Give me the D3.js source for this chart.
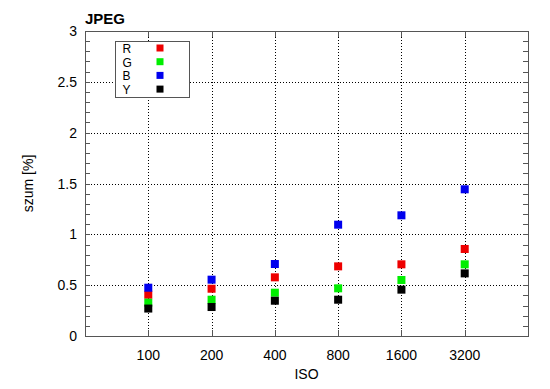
<!DOCTYPE html>
<html>
<head>
<meta charset="utf-8">
<script src="https://cdn.jsdelivr.net/npm/d3@7"></script>
<style>
  body { margin: 0; background: #fff; }
  text { font-family: "Liberation Sans", Arial, sans-serif; }
</style>
</head>
<body>
<div class="chart"></div>
<script>
(function() {

    var isoLabels = ['100', '200', '400', '800', '1600', '3200'];
    var rValues = [0.406, 0.465, 0.577, 0.685, 0.705, 0.856];
    var gValues = [0.328, 0.357, 0.426, 0.469, 0.551, 0.705];
    var bValues = [0.475, 0.554, 0.708, 1.095, 1.187, 1.443];
    var yValues = [0.270, 0.285, 0.347, 0.357, 0.456, 0.616];
    var yTicks = [0, 0.5, 1, 1.5, 2, 2.5, 3];

    var series = [
        { name: 'R', color: '#ee0000', values: rValues },
        { name: 'G', color: '#00ee00', values: gValues },
        { name: 'B', color: '#0000ee', values: bValues },
        { name: 'Y', color: '#000000', values: yValues }
    ];

    var size = { w: 550, h: 389 };
    var m = { left: 85, right: 22, top: 31, bottom: 53 };
    var pw = size.w - m.left - m.right;
    var ph = size.h - m.top - m.bottom;

    var svg = d3.select('.chart')
        .append('svg')
        .attr('width', size.w)
        .attr('height', size.h);

    var g = svg.append('g').attr('transform', 'translate(' + m.left + ',' + m.top + ')');

    var x = d3.scaleLinear().domain([0, isoLabels.length + 1]).range([0, pw]);
    var y = d3.scaleLinear().domain([0, 3]).range([ph, 0]);

    // grid
    g.selectAll('.gx')
        .data(isoLabels)
        .enter()
        .append('line')
        .attr('x1', function(d, i) { return Math.round(x(i + 1)) + 0.5; })
        .attr('x2', function(d, i) { return Math.round(x(i + 1)) + 0.5; })
        .attr('y1', 0)
        .attr('y2', ph)
        .attr('stroke', '#000')
        .attr('stroke-dasharray', '1,2');

    g.selectAll('.gy')
        .data(yTicks.slice(1, -1))
        .enter()
        .append('line')
        .attr('x1', 0)
        .attr('x2', pw)
        .attr('y1', function(d) { return Math.round(y(d)) + 0.5; })
        .attr('y2', function(d) { return Math.round(y(d)) + 0.5; })
        .attr('stroke', '#000')
        .attr('stroke-dasharray', '1,2');

    // minor ticks on y
    var minor = d3.range(1, 30).map(function(v) { return v / 10; });
    [0, pw].forEach(function(px) {
        g.selectAll(null)
            .data(minor)
            .enter()
            .append('line')
            .attr('x1', px)
            .attr('x2', px === 0 ? 5 : pw - 5)
            .attr('y1', function(d) { return Math.round(y(d)) + 0.5; })
            .attr('y2', function(d) { return Math.round(y(d)) + 0.5; })
            .attr('stroke', '#555');
    });

    // ticks on x, top and bottom
    [0, ph].forEach(function(py) {
        g.selectAll(null)
            .data(isoLabels)
            .enter()
            .append('line')
            .attr('x1', function(d, i) { return Math.round(x(i + 1)) + 0.5; })
            .attr('x2', function(d, i) { return Math.round(x(i + 1)) + 0.5; })
            .attr('y1', py)
            .attr('y2', py === 0 ? 6 : ph - 6)
            .attr('stroke', '#555');
    });

    // frame
    g.append('rect')
        .attr('x', 0.5).attr('y', 0.5)
        .attr('width', pw).attr('height', ph)
        .attr('fill', 'none')
        .attr('stroke', '#555');

    // y tick labels
    g.selectAll('.yl')
        .data(yTicks)
        .enter()
        .append('text')
        .attr('x', -8)
        .attr('y', function(d) { return y(d) + 5; })
        .attr('text-anchor', 'end')
        .attr('font-size', 14)
        .text(function(d) { return d; });

    // x tick labels
    g.selectAll('.xl')
        .data(isoLabels)
        .enter()
        .append('text')
        .attr('x', function(d, i) { return x(i + 1); })
        .attr('y', ph + 24)
        .attr('text-anchor', 'middle')
        .attr('font-size', 14)
        .text(function(d) { return d; });

    // points
    var ms = 8;
    series.forEach(function(s) {
        g.selectAll(null)
            .data(s.values)
            .enter()
            .append('rect')
            .attr('x', function(d, i) { return x(i + 1) - ms / 2; })
            .attr('y', function(d) { return y(d) - ms / 2; })
            .attr('width', ms)
            .attr('height', ms)
            .attr('fill', s.color);
    });

    // legend
    var lg = svg.append('g').attr('transform', 'translate(115.5,41.5)');
    lg.append('rect')
        .attr('width', 74).attr('height', 56)
        .attr('fill', '#fff')
        .attr('stroke', '#555');
    series.forEach(function(s, i) {
        lg.append('text')
            .attr('x', 7)
            .attr('y', 11.5 + i * 13.7)
            .attr('font-size', 12)
            .text(s.name);
        lg.append('rect')
            .attr('x', 41)
            .attr('y', 3 + i * 13.7)
            .attr('width', 7).attr('height', 7)
            .attr('fill', s.color);
    });

    // titles
    svg.append('text')
        .attr('x', 85).attr('y', 24)
        .attr('font-size', 15)
        .attr('font-weight', 'bold')
        .text('JPEG');

    svg.append('text')
        .attr('x', m.left + pw / 2).attr('y', 379)
        .attr('text-anchor', 'middle')
        .attr('font-size', 14)
        .text('ISO');

    svg.append('text')
        .attr('transform', 'translate(33,' + (m.top + ph / 2) + ') rotate(-90)')
        .attr('text-anchor', 'middle')
        .attr('font-size', 14)
        .text('szum [%]');

})();
</script>
</body>
</html>
